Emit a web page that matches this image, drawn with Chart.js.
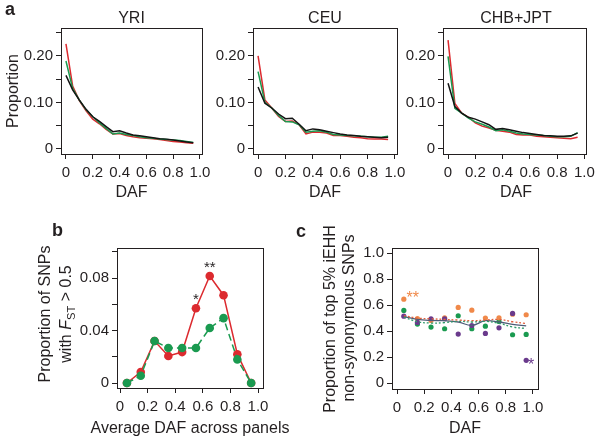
<!DOCTYPE html>
<html>
<head>
<meta charset="utf-8">
<script src="https://cdn.jsdelivr.net/npm/chart.js@4.4.1/dist/chart.umd.min.js"></script>
<style>
body { margin: 0; background: #fff; }
#wrap { position: relative; width: 600px; height: 442px; overflow: hidden; background: #fff; }
canvas { position: absolute; }
</style>
</head>
<body>
<div id="wrap">
  <canvas id="cYRI" width="230" height="200" style="left:0px;top:0px"></canvas>
  <canvas id="cCEU" width="220" height="200" style="left:200px;top:0px"></canvas>
  <canvas id="cCHB" width="210" height="200" style="left:390px;top:0px"></canvas>
  <canvas id="cB" width="290" height="237" style="left:0px;top:205px"></canvas>
  <canvas id="cC" width="310" height="237" style="left:290px;top:205px"></canvas>
</div>
<script>
// ---- panel a : DAF spectra (red, green, black curves per population)
const dafBins = [0, 0.05, 0.1, 0.15, 0.2, 0.25, 0.3, 0.35, 0.4, 0.45, 0.5, 0.55, 0.6, 0.65, 0.7, 0.75, 0.8, 0.85, 0.9, 0.95];
const yriRed   = [0.226, 0.135, 0.104, 0.082, 0.064, 0.054, 0.042, 0.032, 0.033, 0.029, 0.026, 0.024, 0.023, 0.022, 0.020, 0.018, 0.016, 0.015, 0.013, 0.012];
const yriGreen = [0.189, 0.130, 0.105, 0.084, 0.069, 0.056, 0.044, 0.032, 0.034, 0.031, 0.029, 0.026, 0.024, 0.023, 0.021, 0.020, 0.019, 0.018, 0.016, 0.014];
const yriBlack = [0.158, 0.127, 0.105, 0.085, 0.069, 0.059, 0.048, 0.037, 0.039, 0.034, 0.030, 0.028, 0.026, 0.024, 0.022, 0.021, 0.019, 0.017, 0.015, 0.013];
const ceuRed   = [0.200, 0.105, 0.088, 0.070, 0.059, 0.060, 0.052, 0.032, 0.036, 0.036, 0.034, 0.029, 0.029, 0.027, 0.025, 0.024, 0.022, 0.021, 0.021, 0.020];
const ceuGreen = [0.166, 0.100, 0.088, 0.072, 0.059, 0.058, 0.052, 0.036, 0.038, 0.039, 0.036, 0.031, 0.030, 0.029, 0.028, 0.027, 0.026, 0.025, 0.025, 0.027];
const ceuBlack = [0.133, 0.098, 0.088, 0.075, 0.065, 0.066, 0.053, 0.039, 0.043, 0.041, 0.038, 0.035, 0.032, 0.030, 0.029, 0.027, 0.026, 0.025, 0.024, 0.025];
const chbRed   = [0.234, 0.098, 0.077, 0.068, 0.056, 0.049, 0.045, 0.040, 0.038, 0.036, 0.031, 0.030, 0.030, 0.027, 0.026, 0.025, 0.024, 0.023, 0.022, 0.025];
const chbGreen = [0.199, 0.087, 0.077, 0.066, 0.058, 0.053, 0.047, 0.039, 0.041, 0.038, 0.034, 0.032, 0.031, 0.030, 0.029, 0.027, 0.026, 0.026, 0.027, 0.035];
const chbBlack = [0.141, 0.091, 0.077, 0.068, 0.064, 0.058, 0.052, 0.042, 0.044, 0.041, 0.038, 0.035, 0.033, 0.031, 0.029, 0.028, 0.027, 0.027, 0.028, 0.034];

// ---- panel b : proportion of SNPs with Fst > 0.5
const avgDaf   = [0.05, 0.15, 0.25, 0.35, 0.45, 0.55, 0.65, 0.75, 0.85, 0.95];
const fstRed   = [0, 0.0084, 0.032, 0.0206, 0.0236, 0.057, 0.0816, 0.067, 0.022, 0];
const fstGreen = [0, 0.0055, 0.032, 0.0267, 0.0267, 0.0267, 0.042, 0.0495, 0.018, 0];

// ---- panel c : proportion of top 5% iEHH non-synonymous SNPs
const ehhOrange = [0.646, 0.497, 0.482, 0.502, 0.582, 0.561, 0.500, 0.502, 0.530, 0.526];
const ehhGreen  = [0.559, 0.454, 0.431, 0.418, 0.518, 0.418, 0.438, 0.474, 0.372, 0.374];
const ehhPurple = [0.515, 0.467, 0.495, 0.495, 0.377, 0.443, 0.382, 0.425, 0.536, 0.175];
const trendOrange = [0.520, 0.500, 0.495, 0.490, 0.485, 0.480, 0.485, 0.490, 0.472, 0.458];
const trendGreen  = [0.508, 0.472, 0.462, 0.465, 0.475, 0.470, 0.475, 0.460, 0.432, 0.420];
const trendPurple = [0.512, 0.490, 0.482, 0.480, 0.470, 0.444, 0.480, 0.470, 0.452, 0.440];

// ---- tick values and labels
const xTicks = [0, 0.2, 0.4, 0.6, 0.8, 1.0];
const xTickLabels = ['0', '0.2', '0.4', '0.6', '0.8', '1.0'];
const yTicksA = [0, 0.05, 0.10, 0.15, 0.20, 0.25];
const yTickLabelsA = ['0', '', '0.10', '', '0.20', ''];
const yTicksB = [0, 0.02, 0.04, 0.06, 0.08, 0.10];
const yTickLabelsB = ['0', '', '0.04', '', '0.08', ''];
const yTicksC = [0, 0.2, 0.4, 0.6, 0.8, 1.0];
const yTickLabelsC = ['0', '0.2', '0.4', '0.6', '0.8', '1.0'];

const ink = '#231f20';
const FONT = '"Liberation Sans", Arial, Helvetica, sans-serif';
const RED = '#dc2a2f', GREEN = '#1a9a50', BLACK = '#141414';
const ORANGE = '#f0894a', PURPLE = '#6a3a8c', SLATE = '#4f5d78';

function pts(xs, ys) { return xs.map((x, i) => ({ x: x, y: ys[i] })); }

function axis(pos, min, max, ticks, labels, size) {
  return {
    type: 'linear', position: pos, min: min, max: max,
    afterBuildTicks: s => { s.ticks = ticks.map(v => ({ value: v })); },
    afterFit: s => { if (pos === 'left') s.width = size; else s.height = size; },
    grid: { drawOnChartArea: false, drawTicks: true, tickLength: 5, color: ink, lineWidth: 1 },
    border: { display: true, color: ink, width: 1 },
    ticks: {
      color: ink, font: { family: FONT, size: 15 }, padding: pos === 'left' ? 3 : 5,
      autoSkip: false, maxRotation: 0, minRotation: 0,
      callback: (v, i) => labels[i]
    }
  };
}

// draws the frame, titles, panel letters and other text
const deco = {
  id: 'deco',
  afterDraw(chart, args, opts) {
    const ctx = chart.ctx, a = chart.chartArea;
    ctx.save();
    ctx.strokeStyle = ink;
    ctx.lineWidth = 1;
    ctx.strokeRect(Math.round(a.left) + 0.5, Math.round(a.top) + 0.5,
      Math.round(a.right - a.left), Math.round(a.bottom - a.top));
    (opts.texts || []).forEach(t => {
      ctx.save();
      ctx.translate(t.x - opts.ox, t.y - opts.oy);
      if (t.rot) ctx.rotate(t.rot);
      ctx.fillStyle = t.color || ink;
      ctx.textBaseline = 'alphabetic';
      const parts = t.parts || [{ t: t.text }];
      const size = t.size || 16;
      let total = 0;
      parts.forEach(p => {
        ctx.font = (p.italic ? 'italic ' : '') + (t.bold ? 'bold ' : '') + (p.sub ? size * 0.7 : size) + 'px ' + FONT;
        p.w = ctx.measureText(p.t).width;
        total += p.w;
      });
      let x = t.align === 'left' ? 0 : -total / 2;
      parts.forEach(p => {
        ctx.font = (p.italic ? 'italic ' : '') + (t.bold ? 'bold ' : '') + (p.sub ? size * 0.7 : size) + 'px ' + FONT;
        ctx.fillText(p.t, x, p.sub ? size * 0.22 : 0);
        x += p.w;
      });
      ctx.restore();
    });
    // star marks next to chosen points
    (opts.stars || []).forEach(s => {
      const meta = chart.getDatasetMeta(s.ds);
      const el = meta.data[s.idx];
      ctx.fillStyle = s.color || ink;
      ctx.font = (s.size || 15) + 'px ' + FONT;
      ctx.textAlign = 'center';
      ctx.textBaseline = 'alphabetic';
      ctx.fillText(s.text, el.x + s.dx, el.y + s.dy);
    });
    ctx.restore();
  }
};
Chart.register(deco);

function panelA(id, ox, box, title, red, green, black, texts) {
  const cv = document.getElementById(id);
  texts = texts.concat([
    { text: title, x: (box.l + box.r) / 2, y: 23, size: 16 },
    { text: 'DAF', x: (box.l + box.r) / 2, y: 197, size: 16 }
  ]);
  const line = (data, col) => ({ data: pts(dafBins, data), borderColor: col, borderWidth: 1.5, pointRadius: 0, showLine: true, tension: 0 });
  new Chart(cv, {
    type: 'scatter',
    data: { datasets: [line(black, BLACK), line(green, GREEN), line(red, RED)] },
    options: {
      responsive: false, animation: false,
      layout: { padding: { left: 0, top: box.t, right: cv.width - (box.r - ox), bottom: 0 } },
      plugins: { legend: { display: false }, tooltip: { enabled: false }, deco: { ox: ox, oy: 0, texts: texts } },
      scales: {
        x: axis('bottom', -0.037, 1.015, xTicks, xTickLabels, cv.height - box.b),
        y: axis('left', -0.011, 0.26, yTicksA, yTickLabelsA, box.l - ox)
      }
    }
  });
}

panelA('cYRI', 0, { l: 61, r: 202, t: 28, b: 154 }, 'YRI', yriRed, yriGreen, yriBlack, [
  { text: 'a', x: 5, y: 15, size: 18, bold: true, align: 'left' },
  { text: 'Proportion', x: 18, y: 91, rot: -Math.PI / 2, size: 16 }
]);
panelA('cCEU', 200, { l: 253, r: 397, t: 28, b: 154 }, 'CEU', ceuRed, ceuGreen, ceuBlack, []);
panelA('cCHB', 390, { l: 443, r: 589, t: 28, b: 154 }, 'CHB+JPT', chbRed, chbGreen, chbBlack, []);

// ---- panel b
(function () {
  const cv = document.getElementById('cB');
  const ox = 0, oy = 205, box = { l: 117, r: 263, t: 248, b: 388 };
  new Chart(cv, {
    type: 'scatter',
    data: {
      datasets: [
        { data: pts(avgDaf, fstGreen), borderColor: GREEN, backgroundColor: GREEN, borderWidth: 1.5, borderDash: [7, 4], pointRadius: 4.3, pointBorderWidth: 0, showLine: true, tension: 0 },
        { data: pts(avgDaf, fstRed), borderColor: RED, backgroundColor: RED, borderWidth: 1.5, pointRadius: 4.3, pointBorderWidth: 0, showLine: true, tension: 0 }
      ]
    },
    options: {
      responsive: false, animation: false,
      layout: { padding: { left: 0, top: box.t - oy, right: cv.width - (box.r - ox), bottom: 0 } },
      plugins: {
        legend: { display: false }, tooltip: { enabled: false },
        deco: {
          ox: ox, oy: oy,
          texts: [
            { text: 'b', x: 52, y: 236, size: 18, bold: true, align: 'left' },
            { text: 'Proportion of SNPs', x: 50, y: 314, rot: -Math.PI / 2, size: 16 },
            { parts: [{ t: 'with ' }, { t: 'F', italic: true }, { t: 'ST', sub: true }, { t: ' > 0.5' }], x: 71, y: 314, rot: -Math.PI / 2, size: 16 },
            { text: 'Average DAF across panels', x: 190, y: 433, size: 16 }
          ],
          stars: [
            { ds: 1, idx: 5, text: '*', dx: 0, dy: -4 },
            { ds: 1, idx: 6, text: '**', dx: 0, dy: -4 }
          ]
        }
      },
      scales: {
        x: axis('bottom', -0.022, 1.036, xTicks, xTickLabels, cv.height - (box.b - oy)),
        y: axis('left', -0.0038, 0.103, yTicksB, yTickLabelsB, box.l - ox)
      }
    }
  });
})();

// ---- panel c
(function () {
  const cv = document.getElementById('cC');
  const ox = 290, oy = 205, box = { l: 392, r: 538, t: 248, b: 389 };
  const dots = (data, col) => ({ data: pts(avgDaf, data), backgroundColor: col, borderColor: col, pointRadius: 2.6, pointBorderWidth: 0, showLine: false });
  const trend = (data, col, dash) => ({ data: pts(avgDaf, data), borderColor: col, borderWidth: 1.3, borderDash: dash, pointRadius: 0, showLine: true, tension: 0.4 });
  new Chart(cv, {
    type: 'scatter',
    data: {
      datasets: [
        trend(trendOrange, '#e0603f', [2, 2]),
        trend(trendGreen, '#2e9a6a', [2, 2]),
        trend(trendPurple, SLATE, []),
        dots(ehhPurple, PURPLE),
        dots(ehhOrange, ORANGE),
        dots(ehhGreen, GREEN)
      ]
    },
    options: {
      responsive: false, animation: false,
      layout: { padding: { left: 0, top: box.t - oy, right: cv.width - (box.r - ox), bottom: 0 } },
      plugins: {
        legend: { display: false }, tooltip: { enabled: false },
        deco: {
          ox: ox, oy: oy,
          texts: [
            { text: 'c', x: 296, y: 237, size: 18, bold: true, align: 'left' },
            { text: 'Proportion of top 5% iEHH', x: 335, y: 319, rot: -Math.PI / 2, size: 16 },
            { text: 'non-synonymous SNPs', x: 354, y: 318, rot: -Math.PI / 2, size: 16 },
            { text: 'DAF', x: 465, y: 433, size: 16 }
          ],
          stars: [
            { ds: 4, idx: 0, text: '**', dx: 9, dy: 4, color: ORANGE, size: 16 },
            { ds: 3, idx: 9, text: '*', dx: 5, dy: 10, color: PURPLE, size: 16 }
          ]
        }
      },
      scales: {
        x: axis('bottom', -0.037, 1.037, xTicks, xTickLabels, cv.height - (box.b - oy)),
        y: axis('left', -0.046, 1.04, yTicksC, yTickLabelsC, box.l - ox)
      }
    }
  });
})();
</script>
</body>
</html>
